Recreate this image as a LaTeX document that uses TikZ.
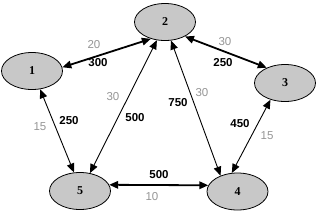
\documentclass[tikz,border=0pt]{standalone}
\usepackage{fontspec}
\setmainfont{Liberation Sans}
\newfontfamily\nodefont{Liberation Serif}
\usetikzlibrary{arrows.meta,shapes.geometric}
\definecolor{nodefill}{RGB}{200,200,200}
\definecolor{labgray}{RGB}{150,150,150}
\tikzset{
  city/.style={ellipse, draw=black, line width=0.8pt, fill=nodefill,
    minimum width=61pt, minimum height=37pt, inner sep=0pt,
    font=\nodefont\bfseries\fontsize{12}{14}\selectfont},
  tip/.style={Triangle[length=9pt,width=7.5pt]},
  thinlink/.style={{Triangle[length=9pt,width=7.5pt]}-{Triangle[length=9pt,width=7.5pt]}, line width=0.9pt},
  thicklink/.style={{Triangle[length=9pt,width=7.5pt]}-{Triangle[length=9pt,width=7.5pt]}, line width=1.8pt},
  cost/.style={font=\bfseries\fontsize{11.5}{13}\selectfont, text=black, inner sep=0pt},
  time/.style={font=\fontsize{11.5}{13}\selectfont, text=labgray, inner sep=0pt}
}
\begin{document}
\begin{tikzpicture}[x=1pt,y=-1pt]
\useasboundingbox[fill=white] (0,0) rectangle (319,215);
\node[city] (n1) at (32,71) {1};
\node[city] (n2) at (165,22) {2};
\node[city] (n3) at (285,83) {3};
\node[city] (n4) at (237.5,191.5) {4};
\node[city] (n5) at (80,191) {5};

\draw[thicklink] (n1.7) -- (n2.230);
\draw[thicklink] (n2.324) -- (n3.140);
\draw[thinlink] (n2.246) -- (n5.61);
\draw[thinlink] (n1.294) -- (n5.108);
\draw[thinlink] (n2.288) -- (n4.137);
\draw[thinlink] (n3.229) -- (n4.107);
\draw[thicklink] (n5.12) -- (n4.168);

\node[time] (t12) at (94,45) {20};
\node[cost] (c12) at (98,63) {300};
\node[time] (t23) at (225,42) {30};
\node[cost] (c23) at (223,63) {250};
\node[time] (t25) at (113,97) {30};
\node[cost] (c25) at (135,118) {500};
\node[time] (t15) at (40,127) {15};
\node[cost] (c15) at (69,121) {250};
\node[cost] (c24) at (178,103) {750};
\node[time] (t24) at (202,93) {30};
\node[cost] (c34) at (240,124) {450};
\node[time] (t34) at (267,136) {15};
\node[cost] (c54) at (159,175) {500};
\node[time] (t54) at (152,197) {10};
\end{tikzpicture}
\end{document}
